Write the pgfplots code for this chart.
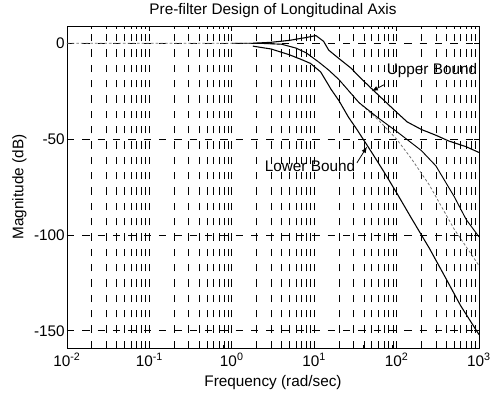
\documentclass[border=0pt]{standalone}
\usepackage{fontspec}
\setmainfont{Liberation Sans}
\usepackage{pgfplots}
\pgfplotsset{compat=1.18}
\begin{document}
\fontsize{11.5}{13.5}\selectfont
\begin{tikzpicture}
\begin{axis}[
  name=ax,
  width=309pt, height=241.5pt, scale only axis,
  xmode=log, xmin=0.01, xmax=1000, ymin=-159, ymax=9,
  xtick={0.01,0.1,1,10,100,1000},
  xticklabels={10\textsuperscript{-2},10\textsuperscript{-1},10\textsuperscript{0},10\textsuperscript{1},10\textsuperscript{2},10\textsuperscript{3}},
  minor xtick={0.02,0.03,0.04,0.05,0.06,0.07,0.08,0.09,0.2,0.3,0.4,0.5,0.6,0.7,0.8,0.9,2,3,4,5,6,7,8,9,20,30,40,50,60,70,80,90,200,300,400,500,600,700,800,900},
  ytick={-150,-100,-50,0}, yticklabels={-150,-100,-50,0},
  xtick pos=both, ytick pos=both, tick align=inside,
  major tick length=4pt, minor tick length=2.5pt,
  every tick/.style={black, line width=0.5pt},
  grid=both,
  major grid style={black, line width=0.45pt, dash pattern=on 5.5pt off 6pt},
  minor grid style={black, line width=0.45pt, dash pattern=on 5.5pt off 6pt},
  axis line style={line width=0.6pt},
  yticklabel style={inner sep=1.5pt},
  xticklabel style={inner sep=1.5pt, yshift=-2pt},
  title={Pre-filter Design of Longitudinal Axis},
  title style={inner sep=1pt, yshift=-1pt},
  xlabel={Frequency (rad/sec)}, ylabel={Magnitude (dB)},
  xlabel style={inner sep=1pt, yshift=-4pt},
  ylabel style={inner sep=1pt, yshift=3pt},
  clip=true,
]
% middle response (gray dotted)
\addplot[black!55, line width=0.6pt, dash pattern=on 2pt off 1.5pt] coordinates {
(0.01,0) (0.1,0) (1,0) (2,0) (4,-0.5) (6,-2.5) (8,-5) (11.5,-10) (15,-14) (20,-19) (35,-31) (60,-40) (100,-50) (150,-60) (250,-74) (500,-97) (1000,-116)};
% middle response (black)
\addplot[black, line width=0.7pt] coordinates {
(1,0) (2,0) (4,-0.5) (6,-2.5) (8,-5) (11.5,-10) (15,-14) (20,-19) (35,-31) (60,-39) (100,-46) (200,-56) (300,-64) (500,-80) (700,-92) (1000,-101)};
% upper bound
\addplot[black, line width=0.8pt] coordinates {
(1.8,0) (3,0.5) (5,1.5) (8,3) (10.5,4) (13,1) (15,-3.6) (20,-8) (28,-13) (37,-18.4) (60,-27) (100,-36) (134,-41) (200,-45) (300,-48) (430,-51) (700,-54) (1000,-57)};
% lower bound
\addplot[black, line width=0.8pt] coordinates {
(1.8,-1.5) (3,-3) (5,-6) (7,-8.5) (9,-10.5) (12,-15) (16,-24) (20,-30) (26,-38.5) (33,-45) (50,-57) (70,-67) (100,-78) (150,-91) (250,-107) (400,-123) (600,-137) (1000,-152)};
\node[inner sep=1pt] at (axis cs:269,-14.4) {Upper Bound};
\draw[-latex, line width=0.6pt] (axis cs:70,-21.7) -- (axis cs:50,-25);
\node[inner sep=1pt] at (axis cs:8.9,-64) {Lower Bound};
\draw[-latex, line width=0.6pt] (axis cs:33,-62.4) -- (axis cs:43.7,-54);
\end{axis}
\path (ax.south west) ++(-50.25pt,-34.5pt) coordinate (bl);
\path (ax.north east) ++(12.75pt,19.5pt) coordinate (tr);
\useasboundingbox (bl) rectangle (tr);
\end{tikzpicture}
\end{document}
